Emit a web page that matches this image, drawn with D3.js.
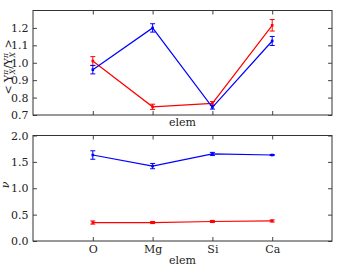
<!DOCTYPE html>
<html><head><meta charset="utf-8">
<script src="https://cdn.jsdelivr.net/npm/d3@7"></script>
<style>body{margin:0;background:#fff}svg{display:block}text{font-family:"DejaVu Serif",serif;fill:#222}</style>
</head><body><svg id="c" width="351" height="270"></svg>
<script>
const categories = ["O","Mg","Si","Ca"];
const ratioBlue = [0.96, 1.20, 0.744, 1.125];
const ratioBlueErr = [0.024, 0.024, 0.01, 0.026];
const ratioRed = [1.01, 0.747, 0.767, 1.215];
const ratioRedErr = [0.025, 0.015, 0.01, 0.033];
const nuBlue = [1.63, 1.42, 1.65, 1.63];
const nuBlueErr = [0.08, 0.05, 0.03, 0.01];
const nuRed = [0.35, 0.35, 0.37, 0.38];
const nuRedErr = [0.03, 0.02, 0.02, 0.02];
const ratioTicks = [0.7,0.8,0.9,1.0,1.1,1.2];
const nuTicks = [0.0,0.5,1.0,1.5,2.0];

const svg = d3.select("#c");
const L = 33, R = 332;
const x = d3.scaleLinear().domain([-1, 4]).range([L, R]);

function panel(top, bottom, domain, ticks, series, showCats){
  const y = d3.scaleLinear().domain(domain).range([bottom, top]);
  const g = svg.append("g");
  const ya = g.append("g").attr("transform",`translate(${L},0)`)
    .call(d3.axisLeft(y).tickValues(ticks).tickFormat(d3.format(".1f")).tickSizeInner(-4).tickSizeOuter(0).tickPadding(4.5));
  ya.select(".domain").remove();
  ya.selectAll("line").attr("stroke","#444");
  ya.selectAll("text").style("font-size","11px").style("fill","#222");
  const yr = g.append("g").attr("transform",`translate(${R},0)`)
    .call(d3.axisRight(y).tickValues(ticks).tickFormat("").tickSizeInner(-4).tickSizeOuter(0));
  yr.select(".domain").remove(); yr.selectAll("line").attr("stroke","#444");
  const xa = g.append("g").attr("transform",`translate(0,${bottom})`)
    .call(d3.axisBottom(x).tickValues([0,1,2,3]).tickFormat(i=>showCats?categories[i]:"").tickSizeInner(-4).tickSizeOuter(0).tickPadding(4));
  xa.select(".domain").remove(); xa.selectAll("line").attr("stroke","#444");
  xa.selectAll("text").style("font-size","11px").style("fill","#222");
  const xt = g.append("g").attr("transform",`translate(0,${top})`)
    .call(d3.axisTop(x).tickValues([0,1,2,3]).tickFormat("").tickSizeInner(-4).tickSizeOuter(0));
  xt.select(".domain").remove(); xt.selectAll("line").attr("stroke","#444");
  series.forEach(s=>{
    const line = d3.line().x((d,i)=>x(i)).y(d=>y(d));
    g.append("path").datum(s.v).attr("d",line).attr("fill","none").attr("stroke",s.c).attr("stroke-width",1.2);
    s.v.forEach((v,i)=>{
      const cx=x(i), y1=y(v+s.e[i]), y2=y(v-s.e[i]);
      g.append("line").attr("x1",cx).attr("x2",cx).attr("y1",y1).attr("y2",y2).attr("stroke",s.c).attr("stroke-width",1);
      [y1,y2].forEach(yy=>g.append("line").attr("x1",cx-2.5).attr("x2",cx+2.5).attr("y1",yy).attr("y2",yy).attr("stroke",s.c).attr("stroke-width",1));
      g.append("rect").attr("x",cx-1.3).attr("y",y(v)-1.3).attr("width",2.6).attr("height",2.6).attr("fill",s.c);
    });
  });
  g.append("rect").attr("x",L).attr("y",top).attr("width",R-L).attr("height",bottom-top)
    .attr("fill","none").attr("stroke","#333").attr("stroke-width",1);
}

panel(10.5, 115, [0.7,1.3], ratioTicks, [{v:ratioRed,e:ratioRedErr,c:"#ff0000"},{v:ratioBlue,e:ratioBlueErr,c:"#0000ff"}], false);
panel(135.5, 241, [0,2], nuTicks, [{v:nuRed,e:nuRedErr,c:"#ff0000"},{v:nuBlue,e:nuBlueErr,c:"#0000ff"}], true);

svg.append("text").attr("x",(L+R)/2).attr("y",126).attr("text-anchor","middle").style("font-size","11px").text("elem");
svg.append("text").attr("x",(L+R)/2).attr("y",264).attr("text-anchor","middle").style("font-size","11px").text("elem");

const yl = svg.append("text").attr("transform","translate(12,67) rotate(-90)").attr("text-anchor","middle").style("font-size","11px");
yl.append("tspan").text("< Y");
yl.append("tspan").attr("dy",-4).style("font-size","7.5px").style("font-style","italic").text("π");
yl.append("tspan").attr("dx",-4.5).attr("dy",7).style("font-size","7.5px").style("font-style","italic").text("X");
yl.append("tspan").attr("dy",-3).text("/Y");
yl.append("tspan").attr("dy",-4).style("font-size","7.5px").style("font-style","italic").text("π");
yl.append("tspan").attr("dx",-4.5).attr("dy",7).style("font-size","7.5px").style("font-style","italic").text("X");
yl.append("tspan").attr("dy",-3).text(" >");

svg.append("text").attr("transform","translate(9,185) rotate(-90)").attr("text-anchor","middle").style("font-size","11px").style("font-style","italic").text("ν");
</script></body></html>
